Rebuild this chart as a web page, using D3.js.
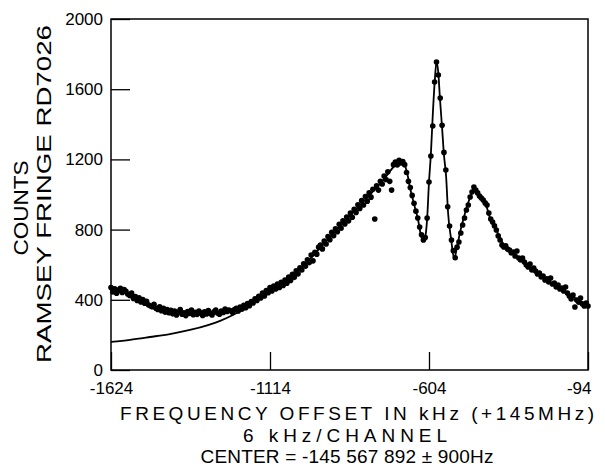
<!DOCTYPE html>
<html>
<head>
<meta charset="utf-8">
<script src="https://cdn.jsdelivr.net/npm/d3@7/dist/d3.min.js"></script>
<style>
  html, body { margin: 0; padding: 0; background: #fff; }
  svg { display: block; }
  text { font-family: "Liberation Sans", Arial, sans-serif; fill: #000; }
</style>
</head>
<body>
<svg id="chart" width="605" height="472"></svg>
<script>
// ---- data ----
const channelStart = -1624;   // kHz
const channelWidth = 6;       // kHz per channel
const counts = [
  470, 445, 462, 438, 455, 466, 442, 458, 448, 432,
  425, 438, 408, 418, 396, 412, 388, 402, 380, 392, 372, 366,
  360, 374, 352, 345, 360, 338, 352, 330, 344, 326, 340,
  320, 336, 314, 330, 344, 318, 326, 310, 333, 322, 341, 315, 329, 317, 336, 324,
  311, 331, 319, 339, 322, 314, 331, 342, 325, 318, 336, 328, 347, 333, 341,
  338, 328, 345, 352, 336, 358, 347, 368, 355, 378, 366, 390, 382, 405,
  396, 420, 410, 438, 422, 452, 440, 470,
  450, 478, 462, 490, 470, 500, 482, 512, 495, 530, 510,
  545, 528, 565, 548, 582,
  570, 605, 592, 628, 612, 655, 622, 670, 660, 700,
  712, 690, 735, 718, 760, 742, 785, 765, 805, 788,
  830, 808, 850, 832, 872, 850, 895, 870, 915, 898, 942, 920,
  965, 940, 988, 962, 1010, 985, 1030, 860, 1050, 1025, 1075, 1060,
  1105, 1085, 1130, 1075, 1025, 1170, 1185, 1168, 1195, 1180, 1188, 1170,
  1125, 1075, 1040, 995, 950, 905, 866, 815, 770, 741,
  755, 866, 1071, 1219, 1390, 1641, 1755, 1681, 1550, 1395,
  1240, 1140, 930, 820, 741, 680, 640, 700, 729, 781,
  826, 866, 912, 940, 986, 1014, 1043, 1026,
  1009, 991, 980, 969, 952, 940, 895, 860, 843, 821,
  798, 764, 741, 712, 701, 707, 689, 684, 667, 672,
  650, 678, 638, 627, 638, 615, 598, 587, 604, 570,
  581, 564, 547, 553, 530, 536, 513, 519, 501, 524,
  490, 496, 473, 484, 462, 467, 450, 473, 439, 422,
  405, 427, 359, 399, 387, 410, 376, 365, 382, 365
];
// fitted curve (kHz, counts)
const fitKHz = [-1624, -1563, -1499, -1435, -1371, -1313, -1274, -1233, -1194, -1162,
  -1114, -1050, -986, -922, -857, -793, -745, -713, -697, -684, -675, -665, -652,
  -639, -630, -622, -617, -610, -604, -598, -592, -585, -580, -574, -569, -562,
  -556, -549, -543, -533, -524, -521, -514, -505, -492, -479, -466, -460, -453,
  -440, -424, -408, -392, -376, -360, -328, -280, -232, -184, -136, -94];
const fitCounts = [160, 172, 188, 205, 228, 256, 280, 313, 355, 396,
  456, 521, 632, 757, 880, 1000, 1095, 1165, 1182, 1172, 1130, 1040, 945,
  855, 770, 738, 752, 860, 1071, 1230, 1450, 1660, 1755, 1690, 1550, 1380,
  1225, 1100, 900, 745, 640, 645, 700, 780, 870, 950, 1010, 1040, 1030,
  990, 955, 865, 815, 750, 705, 655, 585, 520, 465, 410, 372];
const xTicks = [-1624, -1114, -604, -94];
const yTicks = [0, 400, 800, 1200, 1600, 2000];
const yTitleLines = ["COUNTS", "RAMSEY FRINGE RD7026"];
const xTitleLines = ["FREQUENCY OFFSET IN kHz (+145MHz)", "6 kHz/CHANNEL", "CENTER = -145 567 892 ± 900Hz"];

// ---- layout ----
const svg = d3.select("#chart");
const L = 111, R = 588, T = 19, B = 370;
const x = d3.scaleLinear().domain([-1624, -94]).range([L, R]);
const y = d3.scaleLinear().domain([0, 2000]).range([B, T]);

const points = counts.map((c, i) => ({ k: channelStart + i * channelWidth, c }));
const fit = fitKHz.map((k, i) => ({ k, c: fitCounts[i] }));

// frame
svg.append("rect").attr("x", L).attr("y", T).attr("width", R - L).attr("height", B - T)
  .attr("fill", "none").attr("stroke", "#000").attr("stroke-width", 1.5);

// axes
const xAxis = d3.axisBottom(x).tickValues(xTicks).tickSizeInner(-18).tickSizeOuter(0)
  .tickPadding(12).tickFormat(d => String(d));
const gx = svg.append("g").attr("transform", `translate(0,${B})`).call(xAxis);
gx.select(".domain").remove();
gx.selectAll("line").attr("stroke", "#000").attr("stroke-width", 1.3);
gx.selectAll("text").attr("font-size", 17).attr("font-family", "Liberation Sans");
gx.selectAll(".tick").filter(d => d === -94).select("text").attr("text-anchor", "end").attr("dx", 3);

const yAxis = d3.axisLeft(y).tickValues(yTicks).tickSizeInner(-19).tickSizeOuter(0)
  .tickPadding(8).tickFormat(d => String(d));
const gy = svg.append("g").attr("transform", `translate(${L},0)`).call(yAxis);
gy.select(".domain").remove();
gy.selectAll("line").attr("stroke", "#000").attr("stroke-width", 1.3);
gy.selectAll("text").attr("font-size", 17).attr("font-family", "Liberation Sans");

// fitted curve
const line = d3.line().x(d => x(d.k)).y(d => y(d.c)).curve(d3.curveMonotoneX);
svg.append("path").datum(fit).attr("d", line)
  .attr("fill", "none").attr("stroke", "#000").attr("stroke-width", 1.8);

// data points
svg.append("g").selectAll("circle").data(points).join("circle")
  .attr("cx", d => x(d.k)).attr("cy", d => y(d.c)).attr("r", 2.8).attr("fill", "#000");

// y titles (rotated, fitted to the reference length)
const yt = [
  { t: yTitleLines[0], cx: 21, cy: 208, len: 95 },
  { t: yTitleLines[1], cx: 44, cy: 194, len: 338 }
];
yt.forEach(o => {
  const t = svg.append("text")
    .attr("text-anchor", "middle").attr("dominant-baseline", "central")
    .attr("font-size", 21).text(o.t);
  const nat = t.node().getComputedTextLength();
  t.attr("transform", `translate(${o.cx},${o.cy}) rotate(-90) scale(${o.len / nat},1)`);
});

// x titles
const xt = [
  { t: xTitleLines[0], cx: 357, by: 420, len: 474 },
  { t: xTitleLines[1], cx: 345, by: 442, len: 204 },
  { t: xTitleLines[2], cx: 347, by: 463, len: 293 }
];
xt.forEach(o => {
  svg.append("text").attr("x", o.cx).attr("y", o.by).attr("text-anchor", "middle")
    .attr("font-size", 19).attr("textLength", o.len).attr("lengthAdjust", "spacing")
    .text(o.t);
});
</script>
</body>
</html>
